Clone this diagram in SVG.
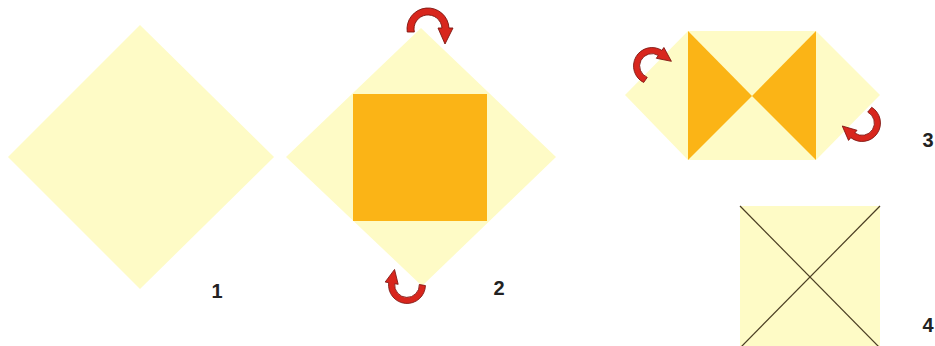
<svg xmlns="http://www.w3.org/2000/svg" width="935" height="346" viewBox="0 0 935 346">
  <style>
    .paper { fill: #fefbc6; }
    .color { fill: #fbb416; }
    .crease { stroke: #4a3d22; stroke-width: 1.2; fill: none; }
    .lbl { font-family: "Liberation Sans", Arial, sans-serif; font-weight: bold; font-size: 20px; fill: #222; text-anchor: middle; }
    .fold { fill: #d8261d; stroke: #7d1510; stroke-width: 0.9; stroke-linejoin: round; }
  </style>
  <defs>
    <path id="foldArrow" class="fold" d="M -20.78 3 A 21 21 0 1 1 20.98 -1 L 25 -1 L 17 15 L 10 -1 L 13.96 -1 A 14 14 0 1 0 -13.67 3 Z"/>
  </defs>
  <rect width="935" height="346" fill="#ffffff"/>

  <g id="step1">
    <polygon class="paper" points="140,25 274,157 140,289 8,157"/>
    <text class="lbl" x="217" y="298">1</text>
  </g>

  <g id="step2">
    <polygon class="paper" points="421,28 556,157 422,286 286,157"/>
    <rect class="color" x="353" y="94" width="134" height="127"/>
    <text class="lbl" x="499" y="295">2</text>
  </g>

  <g id="step3">
    <polygon class="paper" points="688,31 816,31 880,95 816,160 688,160 625,95"/>
    <polygon class="color" points="688,31 752,96 688,160"/>
    <polygon class="color" points="816,31 752,96 816,160"/>
    <text class="lbl" x="928" y="147">3</text>
  </g>

  <g id="step4">
    <rect class="paper" x="740" y="206" width="140" height="142"/>
    <line class="crease" x1="740" y1="206" x2="880" y2="348"/>
    <line class="crease" x1="880" y1="206" x2="740" y2="348"/>
    <text class="lbl" x="928" y="332">4</text>
  </g>

  <g id="connectors">
    <use href="#foldArrow" transform="translate(428,29)"/>
    <use href="#foldArrow" transform="translate(407,285) rotate(190) scale(0.88)"/>
    <use href="#foldArrow" transform="translate(652,66) rotate(-55) scale(0.88)"/>
    <use href="#foldArrow" transform="translate(862,123) rotate(130) scale(0.88)"/>
  </g>
</svg>
